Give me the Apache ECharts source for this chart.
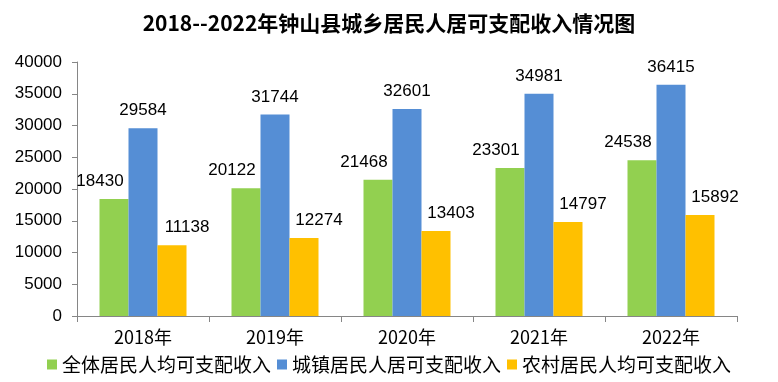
<!DOCTYPE html>
<html>
<head>
<meta charset="utf-8">
<script src="https://cdn.jsdelivr.net/npm/echarts@6/dist/echarts.min.js"></script>
<style>html,body{margin:0;padding:0;background:#fff;}#c{width:778px;height:382px;}</style>
</head>
<body>
<div id="c"></div>
<script>
const titleText = '2018--2022年钟山县城乡居民人居可支配收入情况图';
const categories = ['2018年', '2019年', '2020年', '2021年', '2022年'];
const seriesNames = ['全体居民人均可支配收入', '城镇居民人居可支配收入', '农村居民人均可支配收入'];
const allResidents = [18430, 20122, 21468, 23301, 24538];
const urbanResidents = [29584, 31744, 32601, 34981, 36415];
const ruralResidents = [11138, 12274, 13403, 14797, 15892];
const yTicks = [0, 5000, 10000, 15000, 20000, 25000, 30000, 35000, 40000];

const colors = ['#92D050', '#558ED5', '#FFC000'];
const labelOffsets = [[-14, 0], [0, 0], [15, 0]];
const dataSets = [allResidents, urbanResidents, ruralResidents];

const chart = echarts.init(document.getElementById('c'), null, {renderer: 'canvas'});
chart.setOption({
  animation: false,
  backgroundColor: '#ffffff',
  title: {
    text: titleText,
    left: 'center',
    top: 8,
    textStyle: {fontFamily: 'Noto Sans CJK SC', fontSize: 21, fontWeight: 'bold', color: '#000'}
  },
  legend: {
    data: seriesNames,
    bottom: 3,
    left: 'center',
    icon: 'rect',
    itemWidth: 10,
    itemHeight: 10,
    itemGap: 6,
    textStyle: {fontFamily: 'Noto Sans CJK SC', fontSize: 19, color: '#000'}
  },
  grid: {left: 77, right: 41, top: 62, bottom: 66, containLabel: false},
  xAxis: {
    type: 'category',
    data: categories,
    axisLine: {lineStyle: {color: '#868686'}},
    axisTick: {show: true, length: 6, lineStyle: {color: '#868686'}},
    axisLabel: {fontFamily: 'Noto Sans CJK SC', fontSize: 18, color: '#000', margin: 12}
  },
  yAxis: {
    type: 'value',
    min: yTicks[0],
    max: yTicks[yTicks.length - 1],
    interval: yTicks[1] - yTicks[0],
    splitLine: {show: false},
    axisLine: {show: true, lineStyle: {color: '#868686'}},
    axisTick: {show: true, length: 5, lineStyle: {color: '#868686'}},
    axisLabel: {fontFamily: 'Liberation Sans', fontSize: 17, color: '#000', margin: 15,
      formatter: v => String(v)}
  },
  series: seriesNames.map((name, i) => ({
    name: name,
    type: 'bar',
    data: dataSets[i],
    barWidth: 29,
    barGap: '0%',
    itemStyle: {color: colors[i]},
    label: {
      show: true,
      position: 'top',
      distance: 9,
      offset: labelOffsets[i],
      fontFamily: 'Liberation Sans',
      fontSize: 17,
      color: '#000'
    }
  }))
});
</script>
</body>
</html>
